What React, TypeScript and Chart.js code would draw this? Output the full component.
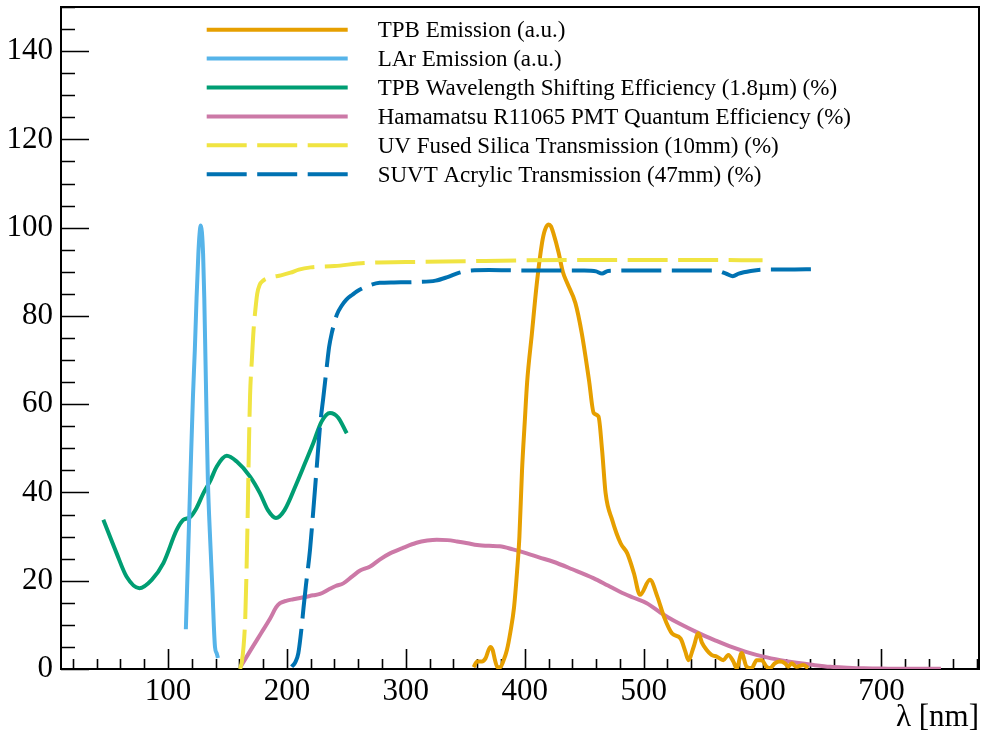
import { useEffect, useRef } from 'react';
import { Chart, registerables } from 'chart.js';

Chart.register(...registerables);

// ---------- axis ranges & ticks ----------
const X_MIN = 10;
const X_MAX = 782;
const Y_MIN = 0;
const Y_MAX = 150;
const X_TICKS = [100, 200, 300, 400, 500, 600, 700];
const Y_TICKS = [0, 20, 40, 60, 80, 100, 120, 140];
const X_MINOR_STEP = 20;
const Y_MINOR_STEP = 5;
const X_TITLE = 'λ [nm]';

// ---------- series ----------
const tpbEmWl = [357, 360, 364, 367, 371, 373, 375, 377, 379.5, 382, 385, 388, 391, 393.5, 395.5, 397.7, 400, 402, 406, 410, 414.5, 417, 420, 422, 424, 428.5, 432, 435.6, 442.6, 448, 454, 458, 462, 465, 468, 473.5, 480.6, 486.2, 491.8, 496.9, 505.3, 511.5, 517, 524, 531, 535, 537.6, 542, 546, 549, 553, 557, 561.4, 567, 571.2, 575.4, 578.2, 582.4, 586.6, 590.8, 595, 599.2, 603.4, 606.2, 610.4, 614.6, 618.8, 621.6, 624.4, 628.6, 634.2, 638.4];
const tpbEmVal = [0.4, 1.7, 1.7, 2.4, 5.0, 4.3, 2.0, 0.4, 0.4, 1.8, 4.3, 8.5, 14, 22, 30, 45, 56, 65, 76, 87, 96.5, 99.5, 100.7, 100.3, 98.8, 94.3, 90, 87.5, 82.9, 76, 65.5, 58, 57.2, 49.7, 39.8, 33.8, 28.5, 26.2, 21.7, 16.8, 20.2, 16.4, 11.9, 8, 6.9, 4, 2.0, 5, 8.1, 6, 4.3, 3.2, 2.8, 2.0, 3.2, 1.7, 0.2, 3.6, 0.5, 0.2, 2.0, 2.0, 0.5, 0.2, 1.3, 1.7, 1.3, 0.5, 1.3, 0.5, 0.9, 0.2];

const larEmWl = [115, 117, 119, 121, 122.5, 124, 125.5, 126.5, 127.5, 128.5, 129.5, 130.5, 131.5, 132.5, 133.5, 135.5, 137.5, 138.5, 139.5, 141, 142];
const larEmVal = [9, 27, 45, 62, 72, 84, 94, 98.5, 100.5, 99, 94, 84, 70, 56, 43, 29, 17, 10, 5, 3.5, 2.5];

const tpbWlsWl = [45.6, 56.8, 65.2, 75.9, 86.3, 96.1, 107.3, 112.9, 118.5, 124, 129.7, 135.3, 141, 149.4, 157.8, 169, 177.4, 184, 190.8, 198, 208.2, 215, 222.2, 229, 236.2, 243, 250.3];
const tpbWlsVal = [33.8, 26.2, 20.9, 18.3, 20.2, 24.0, 31.5, 33.8, 34.4, 36.5, 39.8, 42.5, 45.9, 48.3, 47.0, 43.6, 39.8, 36, 34.2, 36, 42.1, 46.5, 51.2, 56, 58.0, 57, 53.4];

const pmtQeWl = [161, 170, 178, 186, 191, 194.2, 200, 205.4, 215, 222, 227.8, 235, 241, 247.4, 255, 261.5, 266, 270, 278, 286.7, 298, 309, 318, 326, 335, 343, 352, 360, 370, 379, 390, 401.7, 412, 424, 440, 457.7, 470, 480, 491, 502.6, 514, 520, 530, 545, 560, 572.6, 586, 600.7, 615, 628.7, 643, 657, 671, 685, 700, 720, 750];
const pmtQeVal = [0.5, 4.5, 8, 11.5, 14, 14.9, 15.5, 15.8, 16.3, 16.7, 17.0, 18, 18.8, 19.4, 21, 22.3, 22.8, 23.2, 24.8, 26.2, 27.5, 28.6, 29.1, 29.3, 29.2, 28.9, 28.5, 28.1, 27.9, 27.8, 27.1, 26.2, 25.3, 24.3, 22.6, 20.6, 18.9, 17.5, 16.2, 14.9, 12.8, 11.8, 10.3, 8.3, 6.5, 5.1, 3.9, 2.8, 2.0, 1.4, 0.9, 0.5, 0.3, 0.15, 0.1, 0.05, 0.05];

const silicaWl = [160.6, 162, 163.5, 165, 166, 167, 168, 169, 170.5, 172, 173.5, 175, 177, 180, 186, 195, 203, 210, 220, 240, 265, 300, 350, 400, 450, 500, 550, 600];
const silicaVal = [0, 1.5, 5, 12, 22, 35, 50, 62, 70, 77, 81.5, 85, 87, 88, 88.7, 89.2, 89.8, 90.5, 91, 91.3, 92, 92.2, 92.4, 92.6, 92.7, 92.7, 92.7, 92.6];

const acrylicWl = [204, 207, 209.6, 212.4, 214, 216, 219.4, 222.2, 225, 228, 230.6, 233.5, 235.5, 237.7, 240, 242, 246, 250, 255, 259, 267, 278, 290, 310, 325, 335, 345, 355, 370, 400, 430, 450, 460, 465, 470, 500, 530, 560, 570, 575, 580, 590, 600, 620, 645];
const acrylicVal = [0.5, 1.5, 3.6, 9.6, 14, 19, 27, 36, 45.5, 55.5, 61.5, 68.5, 73, 76.1, 78.5, 80.3, 82.3, 83.7, 84.8, 85.6, 86.7, 87.5, 87.6, 87.7, 88, 88.8, 89.8, 90.3, 90.4, 90.3, 90.3, 90.3, 90.1, 89.6, 90.2, 90.3, 90.3, 90.3, 89.5, 89, 89.6, 90.2, 90.5, 90.5, 90.6];

const LABELS = [
  'TPB Emission (a.u.)',
  'LAr Emission (a.u.)',
  'TPB Wavelength Shifting Efficiency (1.8µm) (%)',
  'Hamamatsu R11065 PMT Quantum Efficiency (%)',
  'UV Fused Silica Transmission (10mm) (%)',
  'SUVT Acrylic Transmission (47mm) (%)',
];
const COLORS = ['#E69F00', '#56B4E9', '#009E73', '#CC79A7', '#F0E442', '#0072B2'];
const DASHES: number[][] = [[], [], [], [], [40, 10.5], [40, 10.5]];
const DRAW_ORDER = [3, 2, 5, 4, 1, 0];

const FONT = "'Liberation Serif', 'DejaVu Serif', 'Times New Roman', serif";

function pts(xs: number[], ys: number[]) {
  return xs.map((x, i) => ({ x, y: ys[i] }));
}

const framePlugin = {
  id: 'rootFrame',
  beforeDatasetsDraw(chart: any) {
    const { ctx, chartArea: a, scales } = chart;
    const xs = scales.x;
    const ys = scales.y;
    ctx.save();
    ctx.strokeStyle = '#000';
    ctx.lineWidth = 2;
    ctx.strokeRect(a.left, a.top, a.right - a.left, a.bottom - a.top);
    ctx.lineWidth = 1.6;
    ctx.beginPath();
    for (let v = Math.ceil(X_MIN / X_MINOR_STEP) * X_MINOR_STEP; v <= X_MAX; v += X_MINOR_STEP) {
      const px = Math.round(xs.getPixelForValue(v)) + 0.5;
      const len = X_TICKS.includes(v) ? 20 : 10;
      ctx.moveTo(px, a.bottom);
      ctx.lineTo(px, a.bottom - len);
    }
    for (let v = Y_MIN; v <= Y_MAX; v += Y_MINOR_STEP) {
      const py = Math.round(ys.getPixelForValue(v)) + 0.5;
      const len = Y_TICKS.includes(v) ? 28 : 14;
      ctx.moveTo(a.left, py);
      ctx.lineTo(a.left + len, py);
    }
    ctx.stroke();
    ctx.restore();
  },
  afterDraw(chart: any) {
    const { ctx, chartArea: a } = chart;
    ctx.save();
    // axis title
    ctx.fillStyle = '#000';
    ctx.font = `31px ${FONT}`;
    ctx.textAlign = 'right';
    ctx.textBaseline = 'alphabetic';
    ctx.fillText(X_TITLE, a.right, 726);
    // legend
    const x0 = 206.7;
    const x1 = 347.7;
    const y0 = 29.7;
    const dy = 28.9;
    ctx.font = `23px ${FONT}`;
    ctx.textAlign = 'left';
    LABELS.forEach((label, i) => {
      const y = y0 + i * dy;
      ctx.save();
      ctx.strokeStyle = COLORS[i];
      ctx.lineWidth = 4;
      ctx.lineCap = 'butt';
      ctx.setLineDash(DASHES[i]);
      ctx.beginPath();
      ctx.moveTo(x0, y);
      ctx.lineTo(x1, y);
      ctx.stroke();
      ctx.restore();
      ctx.fillStyle = '#000';
      ctx.fillText(label, 377.7, y + 7.5);
    });
    ctx.restore();
  },
};

export default function App() {
  const ref = useRef<HTMLCanvasElement | null>(null);

  useEffect(() => {
    if (!ref.current) return;
    const series = [
      pts(tpbEmWl, tpbEmVal),
      pts(larEmWl, larEmVal),
      pts(tpbWlsWl, tpbWlsVal),
      pts(pmtQeWl, pmtQeVal),
      pts(silicaWl, silicaVal),
      pts(acrylicWl, acrylicVal),
    ];
    const chart = new Chart(ref.current, {
      type: 'line',
      data: {
        datasets: series.map((d, i) => ({
          label: LABELS[i],
          data: d,
          borderColor: COLORS[i],
          backgroundColor: COLORS[i],
          borderWidth: 4,
          borderDash: DASHES[i],
          borderJoinStyle: 'round',
          pointRadius: 0,
          pointHoverRadius: 0,
          cubicInterpolationMode: 'monotone',
          fill: false,
          order: DRAW_ORDER[i],
        })),
      },
      options: {
        responsive: false,
        animation: false,
        devicePixelRatio: 1,
        layout: { padding: { left: 0, right: 6, top: 7, bottom: 0 } },
        plugins: { legend: { display: false }, tooltip: { enabled: false } },
        events: [],
        scales: {
          x: {
            type: 'linear',
            min: X_MIN,
            max: X_MAX,
            grid: { display: false, drawTicks: false },
            border: { display: false },
            ticks: {
              color: '#000',
              font: { family: FONT, size: 31 },
              padding: 4,
              maxRotation: 0,
              autoSkip: false,
            },
            afterBuildTicks: (s: any) => {
              s.ticks = X_TICKS.map((v) => ({ value: v }));
            },
            afterFit: (s: any) => {
              s.height = 69;
              s.paddingLeft = 0;
              s.paddingRight = 0;
            },
          },
          y: {
            type: 'linear',
            min: Y_MIN,
            max: Y_MAX,
            grid: { display: false, drawTicks: false },
            border: { display: false },
            ticks: {
              color: '#000',
              font: { family: FONT, size: 31 },
              padding: 8,
              autoSkip: false,
            },
            afterBuildTicks: (s: any) => {
              s.ticks = Y_TICKS.map((v) => ({ value: v }));
            },
            afterFit: (s: any) => {
              s.width = 61;
              s.paddingTop = 0;
              s.paddingBottom = 0;
            },
          },
        },
      } as any,
      plugins: [framePlugin],
    });
    return () => chart.destroy();
  }, []);

  return (
    <div style={{ position: 'fixed', left: 0, top: 0, width: 985, height: 738, background: '#fff' }}>
      <canvas ref={ref} width={985} height={738} style={{ display: 'block' }} />
    </div>
  );
}
